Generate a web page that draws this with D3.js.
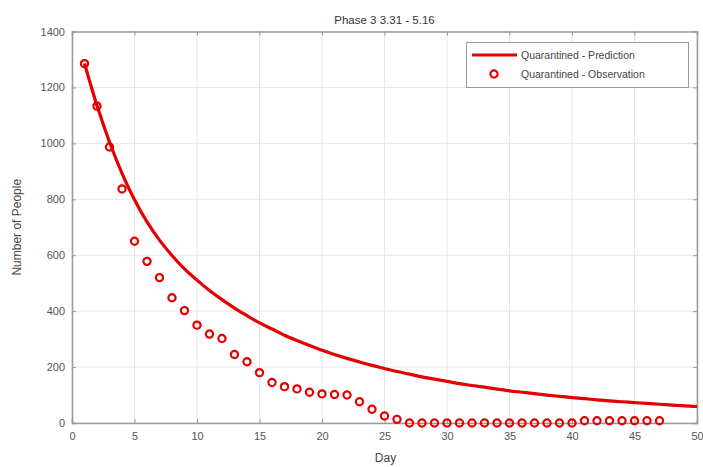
<!DOCTYPE html>
<html><head><meta charset="utf-8">
<script src="https://cdn.jsdelivr.net/npm/d3@7"></script>
<style>
html,body{margin:0;padding:0;background:#fff;}
text{font-family:"Liberation Sans",Arial,sans-serif;}
</style></head>
<body><svg id="c" width="703" height="467"></svg>
<script>
const predDays = d3.range(1, 51);
const predValues = [1286,1135,1005,893,798,719,654,599,551,511,
  474,441,411,384,358,336,314,295,277,260,
  245,231,218,206,195,184,175,165,157,149,
  141,134,128,121,115,110,105,100,95,91,
  87,83,79,76,73,70,67,64,61,59];
const obsDays = d3.range(1, 48);
const obsValues = [1285,1133,987,837,650,578,520,448,402,350,
  318,302,245,219,180,145,130,122,110,104,
  102,100,76,49,25,13,0,0,0,0,
  0,0,0,0,0,0,0,0,0,0,
  8,8,8,8,8,8,8];
const xTicks = [0,5,10,15,20,25,30,35,40,45,50];
const yTicks = [0,200,400,600,800,1000,1200,1400];
const titleText = "Phase 3 3.31 - 5.16";
const xLabel = "Day", yLabel = "Number of People";
const legendLabels = ["Quarantined - Prediction", "Quarantined - Observation"];

const red = "#e40000";
const svg = d3.select("#c");
const L = 72, R = 697, T = 31.5, B = 423;
const x = d3.scaleLinear().domain([0, 50]).range([L, R]);
const y = d3.scaleLinear().domain([0, 1400]).range([B, T]);

// grid
const g = svg.append("g");
g.selectAll(".vg").data(xTicks).enter().append("line")
  .attr("x1", d => x(d)).attr("x2", d => x(d)).attr("y1", T).attr("y2", B)
  .attr("stroke", "#e6e6e6").attr("stroke-width", 1);
g.selectAll(".hg").data(yTicks).enter().append("line")
  .attr("y1", d => y(d)).attr("y2", d => y(d)).attr("x1", L).attr("x2", R)
  .attr("stroke", "#e6e6e6").attr("stroke-width", 1);

// axes (MATLAB style, inward ticks)
const axColor = "#9a9a9a";
const xb = svg.append("g").attr("transform", `translate(0,${B})`)
  .call(d3.axisBottom(x).tickValues(xTicks).tickSize(-4).tickPadding(9).tickFormat(d3.format("d")));
const xt = svg.append("g").attr("transform", `translate(0,${T})`)
  .call(d3.axisTop(x).tickValues(xTicks).tickSize(-4).tickFormat(""));
const yl = svg.append("g").attr("transform", `translate(${L},0)`)
  .call(d3.axisLeft(y).tickValues(yTicks).tickSize(-4).tickPadding(7).tickFormat(d3.format("d")));
const yr = svg.append("g").attr("transform", `translate(${R},0)`)
  .call(d3.axisRight(y).tickValues(yTicks).tickSize(-4).tickFormat(""));
[xb, xt, yl, yr].forEach(a => {
  a.selectAll("path").attr("stroke", axColor).attr("stroke-width", 1.5);
  a.selectAll("line").attr("stroke", axColor);
  a.selectAll("text").attr("fill", "#555").style("font-size", "11px")
    .style("font-family", "'Liberation Sans',Arial,sans-serif");
});

// prediction line
svg.append("path")
  .datum(predDays.map((d, i) => [d, predValues[i]]))
  .attr("d", d3.line().x(d => x(d[0])).y(d => y(d[1])).curve(d3.curveMonotoneX))
  .attr("fill", "none").attr("stroke", red).attr("stroke-width", 3.2);

// observation markers
svg.selectAll(".obs").data(obsDays.map((d, i) => [d, obsValues[i]])).enter()
  .append("circle")
  .attr("cx", d => x(d[0])).attr("cy", d => y(d[1])).attr("r", 3.6)
  .attr("fill", "none").attr("stroke", red).attr("stroke-width", 2.2);

// title and labels
svg.append("text").attr("x", (L + R) / 2).attr("y", 24).attr("text-anchor", "middle")
  .attr("fill", "#333").style("font-size", "11.5px").text(titleText);
svg.append("text").attr("x", (L + R) / 2 + 1).attr("y", 462).attr("text-anchor", "middle")
  .attr("fill", "#444").style("font-size", "12px").text(xLabel);
svg.append("text").attr("transform", `translate(21,${(T + B) / 2}) rotate(-90)`)
  .attr("text-anchor", "middle").attr("fill", "#444").style("font-size", "12px").text(yLabel);

// legend
const lg = svg.append("g");
lg.append("rect").attr("x", 466.5).attr("y", 42.5).attr("width", 222).attr("height", 45)
  .attr("fill", "#fff").attr("stroke", "#9a9a9a").attr("stroke-width", 1);
lg.append("line").attr("x1", 472).attr("x2", 517).attr("y1", 55).attr("y2", 55)
  .attr("stroke", red).attr("stroke-width", 3.2);
lg.append("circle").attr("cx", 494).attr("cy", 74).attr("r", 3.6)
  .attr("fill", "none").attr("stroke", red).attr("stroke-width", 2.2);
lg.selectAll(".lt").data(legendLabels).enter().append("text")
  .attr("x", 521).attr("y", (d, i) => 59 + i * 19)
  .attr("fill", "#444").style("font-size", "10.5px").text(d => d);
</script></body></html>
